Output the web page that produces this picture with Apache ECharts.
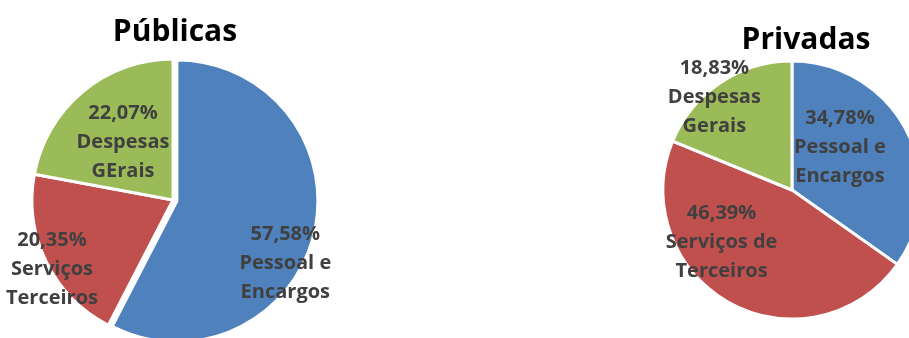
<!DOCTYPE html>
<html>
<head>
<meta charset="utf-8">
<script src="https://cdn.jsdelivr.net/npm/echarts@6/dist/echarts.min.js"></script>
<style>
html,body{margin:0;padding:0;background:#fff;}
#c{width:909px;height:338px;}
</style>
</head>
<body>
<div id="c"></div>
<script>
// Data
const titles = ['Públicas', 'Privadas'];
const publicasNames = ['Pessoal e\nEncargos', 'Serviços\nTerceiros', 'Despesas\nGErais'];
const publicasValues = [57.58, 20.35, 22.07];
const privadasNames = ['Pessoal e\nEncargos', 'Serviços de\nTerceiros', 'Despesas\nGerais'];
const privadasValues = [34.78, 46.39, 18.83];

// Styles
const colors = ['#4F81BD', '#C0504D', '#9BBB59'];
const FONT = 'Open Sans';
const pubLabelShift = [[37, 45], [-55, 37], [-3, -1]];
const privLabelShift = [[-12, -12], [-38, -7], [-40, -37]];

function fmt(p) {
  return p.value.toFixed(2).replace('.', ',') + '%\n' + p.name;
}

function makeSeries(names, values, center, radius, shifts, explodeIndex) {
  return {
    type: 'pie',
    center: center,
    radius: radius,
    startAngle: 90,
    clockwise: true,
    avoidLabelOverlap: false,
    selectedMode: 'single',
    selectedOffset: 4,
    animation: false,
    itemStyle: { borderColor: '#fff', borderWidth: 3 },
    label: {
      show: true,
      position: 'inside',
      formatter: fmt,
      color: '#404040',
      fontFamily: FONT,
      fontWeight: 'bold',
      fontSize: 20,
      lineHeight: 29
    },
    labelLine: { show: false },
    emphasis: { disabled: true },
    labelLayout: function (params) {
      const s = shifts[params.dataIndex];
      return { dx: s[0], dy: s[1] };
    },
    data: names.map((n, i) => ({
      name: n,
      value: values[i],
      selected: i === explodeIndex,
      itemStyle: { color: colors[i] }
    }))
  };
}

const chart = echarts.init(document.getElementById('c'));
chart.setOption({
  backgroundColor: '#fff',
  title: [
    { text: titles[0], left: 170, top: 12, textAlign: 'center',
      textStyle: { fontFamily: FONT, fontWeight: 'bold', fontSize: 30, color: '#000' } },
    { text: titles[1], left: 801, top: 20, textAlign: 'center',
      textStyle: { fontFamily: FONT, fontWeight: 'bold', fontSize: 30, color: '#000' } }
  ],
  series: [
    makeSeries(publicasNames, publicasValues, [173, 200], 141, pubLabelShift, 0),
    makeSeries(privadasNames, privadasValues, [792, 190], 129, privLabelShift, -1)
  ]
});
</script>
</body>
</html>
